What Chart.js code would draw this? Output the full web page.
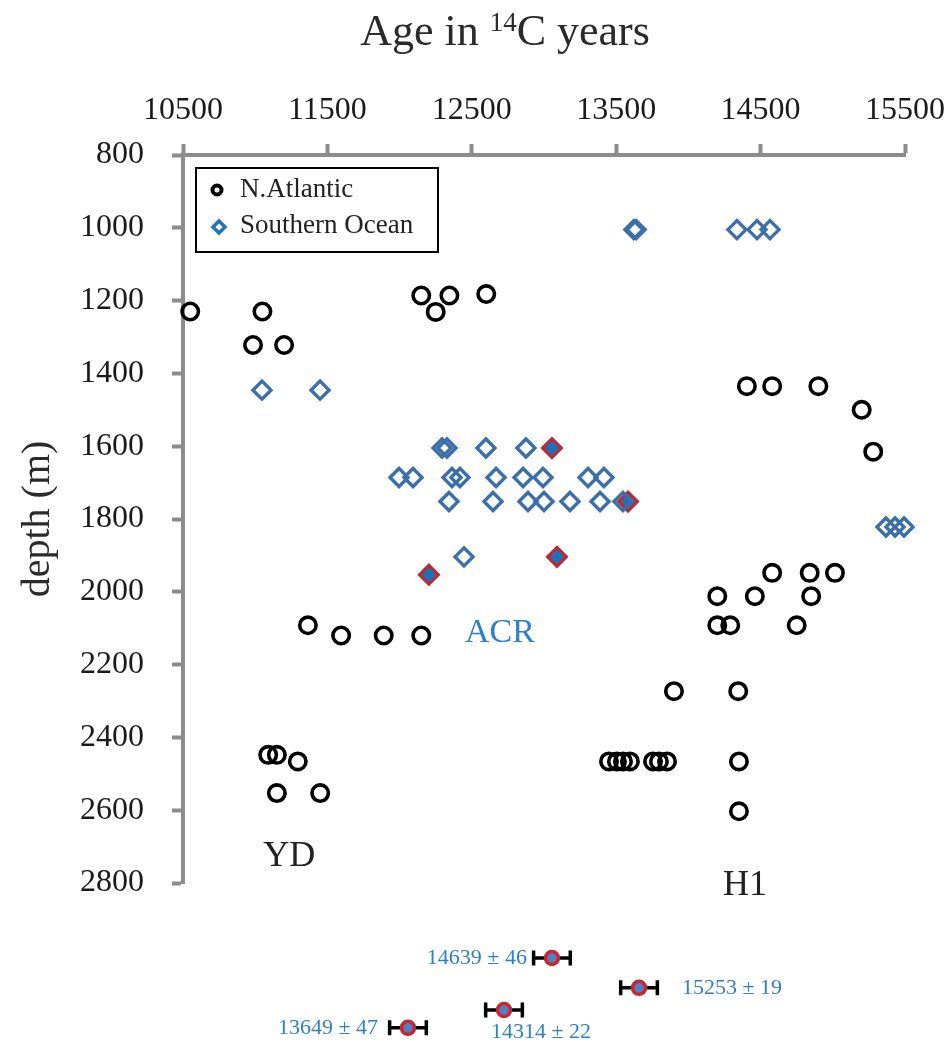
<!DOCTYPE html>
<html>
<head>
<meta charset="utf-8">
<script src="https://cdn.jsdelivr.net/npm/chart.js@4.4.1/dist/chart.umd.min.js"></script>
<style>
  html, body { margin: 0; padding: 0; background: #fff; }
  #wrap { width: 948px; height: 1044px; }
</style>
</head>
<body>
<div id="wrap"><canvas id="ageChart"></canvas></div>
<script>
/*  data
-------------------------------------------------------*/
var naAge = [10550, 11050, 10985, 11200, 12150, 12345, 12250, 12600,
  14405, 14580, 14900, 15200, 15280,
  11365, 11595, 11890, 12150,
  14580, 14840, 15015, 14200, 14460, 14850, 14200, 14290, 14750,
  13900, 14345,
  13450, 13505, 13547, 13595, 13755, 13796, 13852, 14350, 14350,
  11090, 11150, 11295, 11150, 11450];
var naDepth = [1230, 1230, 1322, 1322, 1186, 1186, 1231, 1182,
  1435, 1435, 1435, 1500, 1615,
  2092, 2120, 2120, 2120,
  1948, 1948, 1948, 2012, 2012, 2012, 2092, 2092, 2092,
  2273, 2273,
  2466, 2466, 2466, 2466, 2466, 2466, 2466, 2466, 2603,
  2448, 2448, 2466, 2553, 2553];

var soAge = [13622, 13638, 14336, 14475, 14565,
  11047, 11449,
  12294, 12328, 12598, 12875,
  11996, 12093, 12363, 12418, 12668, 12855, 12993, 13305, 13415,
  12342, 12647, 12889, 13000, 13180, 13388, 13547,
  12446,
  15368, 15431, 15493];
var soDepth = [1005, 1005, 1005, 1005, 1005,
  1446, 1446,
  1605, 1605, 1605, 1605,
  1686, 1686, 1686, 1686, 1686, 1686, 1686, 1686, 1686,
  1752, 1752, 1752, 1752, 1752, 1752, 1752,
  1904,
  1822, 1822, 1822];

// dated samples (filled diamonds)
var hlAge = [13055, 13582, 13090, 12203];
var hlDepth = [1605, 1752, 1904, 1953];

// calibrated ages shown under the plot
var errAge = [13055, 13658, 12723, 12058];
var errDepth = [3006, 3088, 3149, 3198];
var errHalf = [127, 127, 127, 127];
var errLabels = ['14639 \u00b1 46', '15253 \u00b1 19', '14314 \u00b1 22', '13649 \u00b1 47'];

var notes = ['YD', 'H1', 'ACR'];
var noteAge = [11235, 14392, 12695];
var noteDepth = [2726, 2808, 2113];

var xTicks = [10500, 11500, 12500, 13500, 14500, 15500];
var yTicks = [800, 1000, 1200, 1400, 1600, 1800, 2000, 2200, 2400, 2600, 2800];

/*  helpers
-------------------------------------------------------*/
var FONT = "'Liberation Serif', 'Times New Roman', serif";
var AXIS = '#8c8c8c';
var BLUE_TXT = '#2f80c4';

function pairs(xs, ys) {
  return xs.map(function (v, i) { return { x: v, y: ys[i] }; });
}

// label placement for the calibrated ages (offset from marker, px)
var errPlace = [
  { align: 'right', dx: -25, dy: 0 },
  { align: 'left', dx: 43, dy: 0 },
  { align: 'center', dx: 37, dy: 22 },
  { align: 'right', dx: -30, dy: 0 }
];
var noteColor = ['#222', '#222', BLUE_TXT];
var noteSize = [36, 36, 34];

var extras = {
  id: 'extras',
  beforeDatasetsDraw: function (chart) {
    var xs = chart.scales.x, ys = chart.scales.y, ctx = chart.ctx;
    ctx.save();
    ctx.strokeStyle = '#000';
    ctx.lineWidth = 3.5;
    errAge.forEach(function (v, i) {
      var x1 = xs.getPixelForValue(v - errHalf[i]);
      var x2 = xs.getPixelForValue(v + errHalf[i]);
      var y = ys.getPixelForValue(errDepth[i]);
      ctx.beginPath();
      ctx.moveTo(x1, y); ctx.lineTo(x2, y);
      ctx.moveTo(x1, y - 7.5); ctx.lineTo(x1, y + 7.5);
      ctx.moveTo(x2, y - 7.5); ctx.lineTo(x2, y + 7.5);
      ctx.stroke();
    });
    ctx.restore();
  },
  afterDatasetsDraw: function (chart) {
    var xs = chart.scales.x, ys = chart.scales.y, ctx = chart.ctx;
    // markers of the calibrated ages sit below the plot area, so draw them without the area check
    var whole = { left: 0, top: 0, right: chart.width, bottom: chart.height };
    chart.getDatasetMeta(3).data.forEach(function (pt) { pt.draw(ctx, whole); });

    ctx.save();
    ctx.textBaseline = 'middle';
    ctx.font = '22px ' + FONT;
    ctx.fillStyle = BLUE_TXT;
    errLabels.forEach(function (t, i) {
      var p = errPlace[i];
      ctx.textAlign = p.align;
      ctx.fillText(t, xs.getPixelForValue(errAge[i]) + p.dx, ys.getPixelForValue(errDepth[i]) + p.dy);
    });
    // period names
    ctx.textAlign = 'center';
    notes.forEach(function (t, i) {
      ctx.font = noteSize[i] + 'px ' + FONT;
      ctx.fillStyle = noteColor[i];
      ctx.fillText(t, xs.getPixelForValue(noteAge[i]), ys.getPixelForValue(noteDepth[i]));
    });
    ctx.restore();
  },
  afterDraw: function (chart) {
    var ctx = chart.ctx, a = chart.chartArea;
    ctx.save();

    // axis title with a real superscript
    var big = '44px ' + FONT, small = '27px ' + FONT;
    var parts = [['Age in ', big, 0], ['14', small, -14], ['C years', big, 0]];
    var w = 0;
    parts.forEach(function (p) { ctx.font = p[1]; w += ctx.measureText(p[0]).width; });
    var tx = (a.left + a.right) / 2 - 39 - w / 2;
    ctx.fillStyle = '#2a2a2a';
    ctx.textAlign = 'left';
    ctx.textBaseline = 'alphabetic';
    parts.forEach(function (p) {
      ctx.font = p[1];
      ctx.fillText(p[0], tx, 45 + p[2]);
      tx += ctx.measureText(p[0]).width;
    });

    // framed legend in the upper left of the plot
    var x0 = a.left + 13, y0 = a.top + 13;
    var ds = chart.data.datasets;
    ctx.fillStyle = '#fff';
    ctx.fillRect(x0, y0, 242, 84);
    ctx.strokeStyle = '#000';
    ctx.lineWidth = 2;
    ctx.strokeRect(x0, y0, 242, 84);

    var cx = x0 + 21;
    ctx.beginPath();
    ctx.lineWidth = 4;
    ctx.strokeStyle = '#000';
    ctx.arc(cx, y0 + 22, 4.5, 0, Math.PI * 2);
    ctx.stroke();
    ctx.beginPath();
    ctx.lineWidth = 3.5;
    ctx.strokeStyle = '#1f72bd';
    ctx.moveTo(cx + 2, y0 + 59 - 6);
    ctx.lineTo(cx + 2 + 6, y0 + 59);
    ctx.lineTo(cx + 2, y0 + 59 + 6);
    ctx.lineTo(cx + 2 - 6, y0 + 59);
    ctx.closePath();
    ctx.stroke();

    ctx.font = '27px ' + FONT;
    ctx.fillStyle = '#222';
    ctx.textBaseline = 'middle';
    ctx.fillText(ds[0].label, x0 + 44, y0 + 22);
    ctx.fillText(ds[1].label, x0 + 44, y0 + 58);
    ctx.restore();
  }
};

/*  chart
-------------------------------------------------------*/
var ctx = document.getElementById('ageChart');
var ageChart = new Chart(ctx, {
  type: 'scatter',
  data: {
    datasets: [{
        label: 'N.Atlantic',
        data: pairs(naAge, naDepth),
        pointStyle: 'circle',
        pointRadius: 8.2,
        borderWidth: 3.6,
        borderColor: '#000',
        backgroundColor: 'rgba(0,0,0,0)',
        clip: false
      }, {
        label: 'Southern Ocean',
        data: pairs(soAge, soDepth),
        pointStyle: 'rectRot',
        pointRadius: 9,
        borderWidth: 3.4,
        borderColor: '#3b6fa9',
        backgroundColor: 'rgba(0,0,0,0)',
        clip: false
      }, {
        label: 'dated',
        data: pairs(hlAge, hlDepth),
        pointStyle: 'rectRot',
        pointRadius: 9.5,
        borderWidth: 3,
        borderColor: '#c4262e',
        backgroundColor: '#1e70b9',
        clip: false
      }, {
        label: 'calibrated',
        data: pairs(errAge, errDepth),
        pointStyle: 'circle',
        pointRadius: 6.5,
        borderWidth: 3.5,
        borderColor: '#c8262c',
        backgroundColor: '#4f80c6',
        clip: false
      }
    ]
  },
  options: {
    responsive: true,
    maintainAspectRatio: false,
    animation: false,
    events: [],
    layout: {
      padding: { left: 0, top: 0, right: 43, bottom: 161 }
    },
    plugins: {
      legend: { display: false },
      tooltip: { enabled: false }
    },
    scales: {
      x: {
        type: 'linear',
        position: 'top',
        min: xTicks[0],
        max: xTicks[xTicks.length - 1],
        afterBuildTicks: function (scale) {
          scale.ticks = xTicks.map(function (v) { return { value: v }; });
        },
        afterFit: function (scale) {
          scale.height = 155;
          scale.paddingLeft = 0;
          scale.paddingRight = 0;
        },
        ticks: {
          padding: 14,
          color: '#1a1a1a',
          font: { family: FONT, size: 32 },
          callback: function (v) { return String(v); }
        },
        grid: {
          drawOnChartArea: false,
          tickLength: 11,
          tickWidth: 4,
          color: AXIS
        },
        border: { color: AXIS, width: 4 }
      },
      y: {
        type: 'linear',
        reverse: true,
        min: yTicks[0],
        max: yTicks[yTicks.length - 1],
        afterBuildTicks: function (scale) {
          scale.ticks = yTicks.map(function (v) { return { value: v }; });
        },
        afterFit: function (scale) {
          scale.width = 183;
          scale.paddingTop = 0;
          scale.paddingBottom = 0;
        },
        ticks: {
          padding: 28,
          color: '#1a1a1a',
          font: { family: FONT, size: 32 },
          callback: function (v) { return String(v); }
        },
        grid: {
          drawOnChartArea: false,
          tickLength: 11,
          tickWidth: 4,
          color: AXIS
        },
        border: { color: AXIS, width: 4 },
        title: {
          display: true,
          text: 'depth (m)',
          color: '#2a2a2a',
          font: { family: FONT, size: 40 },
          padding: { top: 14, bottom: 0 }
        }
      }
    }
  },
  plugins: [extras]
});
</script>
</body>
</html>
